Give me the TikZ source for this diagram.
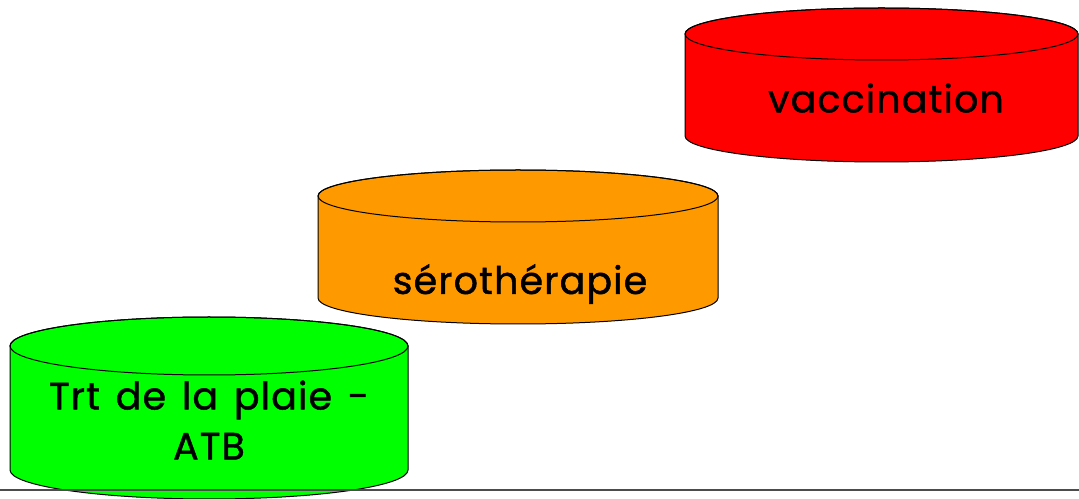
\documentclass[tikz,border=0pt]{standalone}
\usepackage{fontspec}
\setmainfont{Poppins}[FakeBold=1.2,LetterSpace=3,WordSpace=1.4]
\definecolor{cgreen}{HTML}{00FF00}
\definecolor{corange}{HTML}{FF9900}
\definecolor{cred}{HTML}{FF0000}
\newcommand\drawcyl[6]{% cx rx topcy botcy ry color
  \path[fill=#6,draw=black,line width=1pt] ({#1-#2},#3) -- ({#1-#2},#4)
    arc[start angle=180,end angle=360,x radius=#2,y radius=#5] -- ({#1+#2},#3)
    arc[start angle=0,end angle=180,x radius=#2,y radius=#5] -- cycle;
  \draw[line width=1pt] (#1,#3) ellipse[x radius=#2,y radius=#5];
}
\tikzset{lbl/.style={font=\fontsize{38}{50}\selectfont,align=center,inner sep=0pt}}
\begin{document}
\begin{tikzpicture}[x=1pt,y=1pt]
\useasboundingbox (0,0) rectangle (1079,498);
\begin{scope}
\clip (0,0) rectangle (1079,498);
\drawcyl{881.5}{196.5}{464}{362}{26}{cred}
\drawcyl{518}{200}{302}{200}{26}{corange}
\drawcyl{209}{199}{152}{28}{29}{cgreen}
\end{scope}
\coordinate (l0) at (0,8);
\coordinate (l1) at (1079,8);
\draw[line width=1.5pt,black!70] (l0) -- (l1);
\node[lbl] (vac) at (886,400) {vaccination};
\node[lbl] (sero) at (520,214) {sérothérapie};
\node[lbl] (trt) at (209,78) {Trt de la plaie -\\ATB};
\end{tikzpicture}
\end{document}
